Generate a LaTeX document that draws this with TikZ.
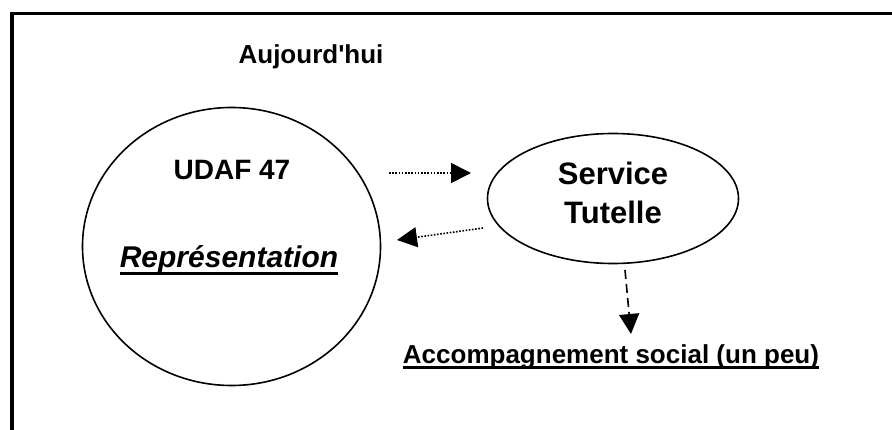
\documentclass[tikz,border=0pt]{standalone}
\usepackage{fontspec}
\setmainfont{Liberation Sans}
\usetikzlibrary{arrows.meta,shapes.geometric}

\begin{document}
\begin{tikzpicture}[x=1pt,y=-1pt,
  txt/.style={inner sep=0pt, anchor=base},
  ovale/.style={draw, ellipse, line width=1.6pt, inner sep=0pt},
  fleche/.style={-{Triangle[length=20pt,width=20pt]}, line width=1.6pt}]
\useasboundingbox (0,0) rectangle (892,430);
\draw[line width=3.3pt] (12,432) -- (12,13.5) -- (894,13.5);
\node[ovale, minimum width=298pt, minimum height=278pt] (udaf) at (231.5,246.5) {};
\node[ovale, minimum width=251pt, minimum height=130pt] (serv) at (613,198.5) {};
\node[txt, font=\bfseries\fontsize{26}{30}\selectfont] (auj) at (311,64) {Aujourd\textquotesingle hui};
\node[txt, font=\bfseries\fontsize{28}{32}\selectfont] (udaftxt) at (232,180) {UDAF 47};
\node[txt, font=\bfseries\itshape\fontsize{30}{34}\selectfont] (rep) at (229,268) {Représentation};
\draw[line width=3pt] ([yshift=-6pt]rep.base west) -- ([yshift=-6pt]rep.base east);
\node[txt, font=\bfseries\fontsize{31}{36}\selectfont] (servtxt) at (613,185) {Service};
\node[txt, font=\bfseries\fontsize{31}{36}\selectfont] (tuttxt) at (613,224) {Tutelle};
\node[txt, font=\bfseries\fontsize{26}{30}\selectfont] (acc) at (611,363) {Accompagnement social (un peu)};
\draw[line width=3pt] ([yshift=-5pt]acc.base west) -- ([yshift=-5pt]acc.base east);
\coordinate (aller) at (389,173);
\coordinate (arrivee) at (471,173);
\draw[fleche, dash pattern=on 1.6pt off 1.6pt] (aller) -- (arrivee);
\coordinate (retour) at (483,228);
\coordinate (fin) at (397,240);
\draw[fleche, dash pattern=on 1.6pt off 1.6pt] (retour) -- (fin);
\coordinate (bas) at (625,270);
\coordinate (cible) at (631,334);
\draw[fleche, dash pattern=on 9pt off 5pt] (bas) -- (cible);
\end{tikzpicture}
\end{document}
